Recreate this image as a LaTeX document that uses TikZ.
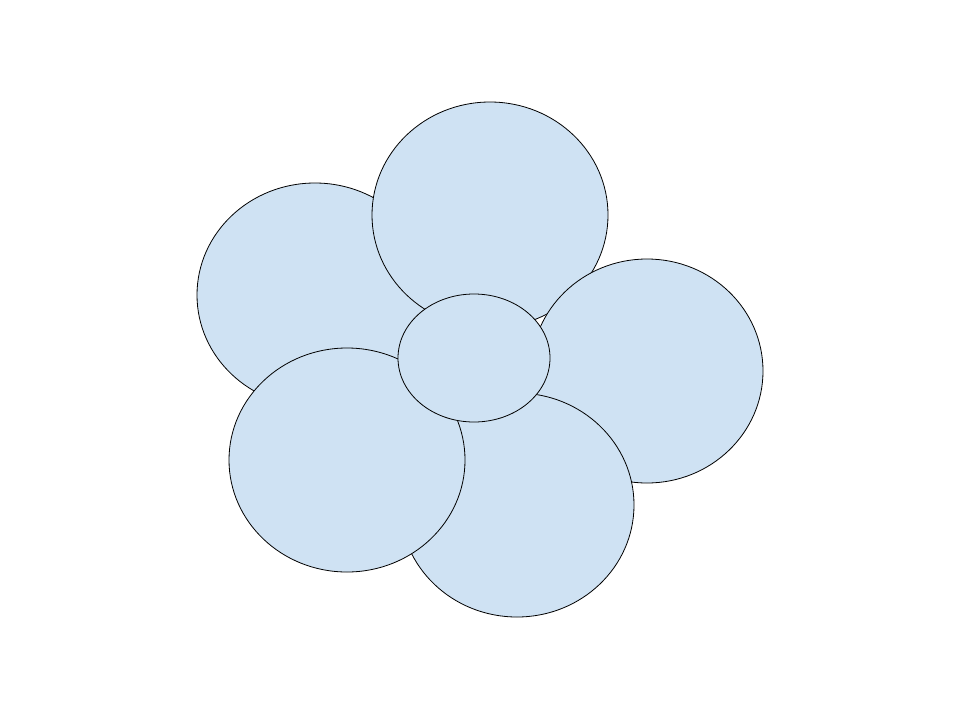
\documentclass[tikz,border=0pt]{standalone}
\definecolor{petal}{HTML}{CFE2F3}
\begin{document}
\begin{tikzpicture}[x=1pt,y=-1pt,
  petalstyle/.style={fill=petal,draw=black,line width=0.8pt}]
\useasboundingbox (0,0) rectangle (960,720);
\fill[white] (0,0) rectangle (960,720);
\draw[petalstyle] (315,295) ellipse [x radius=118,y radius=112];
\draw[petalstyle] (490,215) ellipse [x radius=118,y radius=113];
\draw[petalstyle] (647,371) ellipse [x radius=116,y radius=112];
\draw[petalstyle] (517,505) ellipse [x radius=117,y radius=112];
\draw[petalstyle] (347,460) ellipse [x radius=118,y radius=112];
\draw[petalstyle] (474,358) ellipse [x radius=76,y radius=64];
\end{tikzpicture}
\end{document}
